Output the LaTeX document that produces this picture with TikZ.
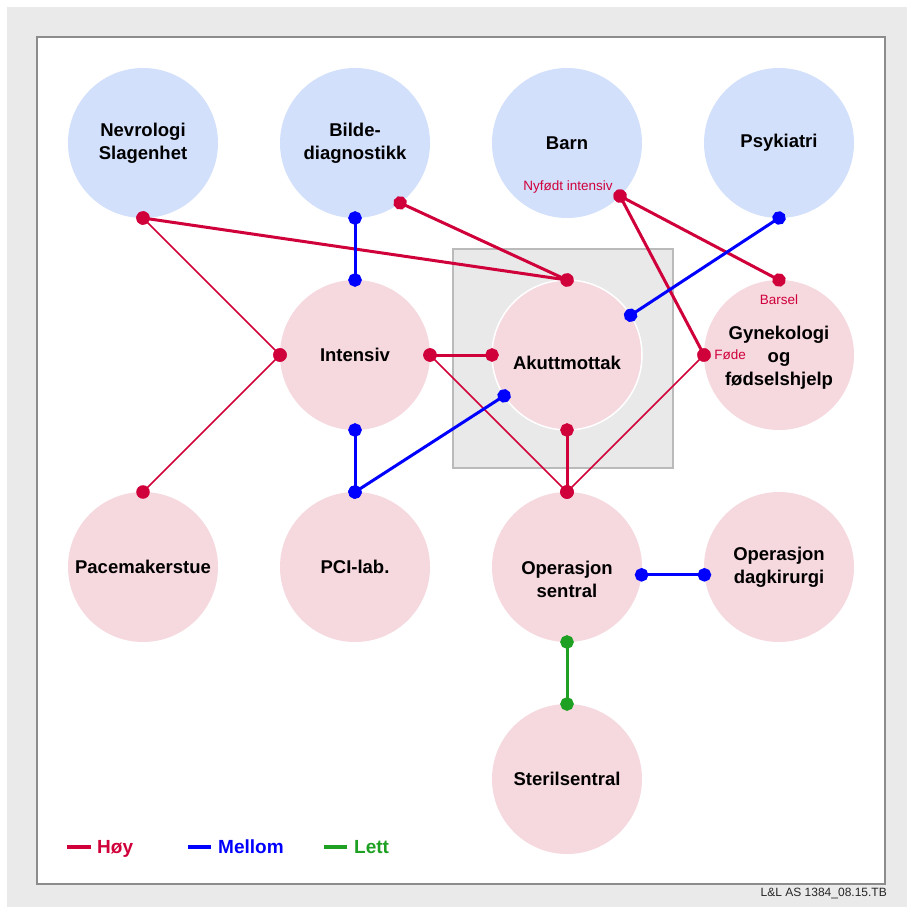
\documentclass[tikz,border=0pt]{standalone}
\usepackage{fontspec}
\setmainfont{Liberation Sans}
\usetikzlibrary{arrows.meta}

\definecolor{hoyrod}{RGB}{208,0,58}
\definecolor{mellomblaa}{RGB}{0,0,255}
\definecolor{lettgronn}{RGB}{30,160,35}
\definecolor{blafyll}{RGB}{210,224,252}
\definecolor{rosafyll}{RGB}{246,216,223}
\definecolor{bakgrunn}{RGB}{234,234,234}
\definecolor{rommet}{RGB}{233,233,233}

\begin{document}
\begin{tikzpicture}[
  x=1pt, y=-1pt,
  avdtekst/.style={align=center, font=\bfseries\fontsize{18.5}{23}\selectfont},
  avd/.style={circle, minimum size=150pt, inner sep=0pt, outer sep=0pt, avdtekst},
  blaa/.style={avd, fill=blafyll},
  rosa/.style={avd, fill=rosafyll},
  forb/.style={line width=3pt, arrows={Circle[length=13.5pt]-Circle[length=13.5pt]},
    shorten <=-6.75pt, shorten >=-6.75pt},
  hoy/.style={forb, draw=hoyrod},
  mellom/.style={forb, draw=mellomblaa},
  lett/.style={forb, draw=lettgronn},
  tynn/.style={line width=1.6pt},
  liten/.style={text=hoyrod, inner sep=0pt, font=\fontsize{13.5}{16}\selectfont},
  tegn/.style={inner sep=0pt, anchor=base west, font=\bfseries\fontsize{19}{22}\selectfont},
]
  \useasboundingbox (0,0) rectangle (907,907);
  \fill[white] (0,0) rectangle (907,907);
  \fill[bakgrunn] (7,7) rectangle (907,907);
  \draw[fill=white, draw=black!45, line width=2.2pt] (37,37) rectangle (885,884);
  \draw[fill=rommet, draw=black!27, line width=1.3pt] (453,249) rectangle (673,468);

  \node[blaa] (nev)  at (143,143) {Nevrologi\\Slagenhet};
  \node[blaa] (bil)  at (355,143) {Bilde-\\diagnostikk};
  \node[blaa] (barn) at (567,143) {Barn};
  \node[blaa] (psy)  at (779,143) {Psykiatri};
  \node[rosa] (int)  at (355,355) {Intensiv};
  \node[rosa, draw=white, line width=1.5pt,
    label={[avdtekst, yshift=-8pt]center:Akuttmottak}] (akutt) at (567,355) {};
  \node[rosa, label={[avdtekst, yshift=-3pt]center:Gynekologi\\og\\fødselshjelp}] (gyn) at (779,355) {};
  \node[rosa] (pace) at (143,567) {Pacemakerstue};
  \node[rosa] (pci)  at (355,567) {PCI-lab.};
  \node[rosa, label={[avdtekst, yshift=-12pt]center:Operasjon\\sentral}] (opsen) at (567,567) {};
  \node[rosa] (opdag) at (779,567) {Operasjon\\dagkirurgi};
  \node[rosa] (steril) at (567,779) {Sterilsentral};

  \node[liten] (nyfodt) at (568,187) {Nyfødt intensiv};
  \node[liten] (barsel) at (779,300) {Barsel};
  \node[liten] (fode)   at (730,355) {Føde};

  \draw[hoy] (nev.south) -- (akutt.north);
  \draw[hoy, tynn] (nev.south) -- (int.west);
  \draw[hoy, tynn] (int.west) -- (pace.north);
  \draw[hoy] (bil.-53) -- (akutt.north);
  \draw[hoy] (int.east) -- (akutt.west);
  \draw[hoy, tynn] (int.east) -- (opsen.north);
  \draw[hoy] (akutt.south) -- (opsen.north);
  \draw[hoy, tynn] (gyn.west) -- (opsen.north);
  \draw[hoy] (barn.-45) -- (gyn.west);
  \draw[hoy] (barn.-45) -- (gyn.north);
  \draw[mellom] (bil.south) -- (int.north);
  \draw[mellom] (int.south) -- (pci.north);
  \draw[mellom] (pci.north) -- (akutt.213);
  \draw[mellom] (psy.south) -- (akutt.32);
  \draw[mellom] (opsen.-6) -- (opdag.186);
  \draw[lett] (opsen.south) -- (steril.north);

  % tegnforklaring
  \node[tegn, text=hoyrod] (lhoy) at (97,853) {Høy};
  \node[tegn, text=mellomblaa] (lmellom) at (218,853) {Mellom};
  \node[tegn, text=lettgronn] (llett) at (354,853) {Lett};
  \draw[hoyrod, line width=4pt] ([xshift=-6pt, yshift=6pt]lhoy.base west) -- ++(-24,0);
  \draw[mellomblaa, line width=4pt] ([xshift=-7pt, yshift=6pt]lmellom.base west) -- ++(-23,0);
  \draw[lettgronn, line width=4pt] ([xshift=-7pt, yshift=6pt]llett.base west) -- ++(-23,0);

  \node[anchor=east, inner sep=0pt, text=black!85, font=\fontsize{12}{14}\selectfont]
    (ref) at (887,893) {L\&L AS 1384\_08.15.TB};
\end{tikzpicture}
\end{document}
